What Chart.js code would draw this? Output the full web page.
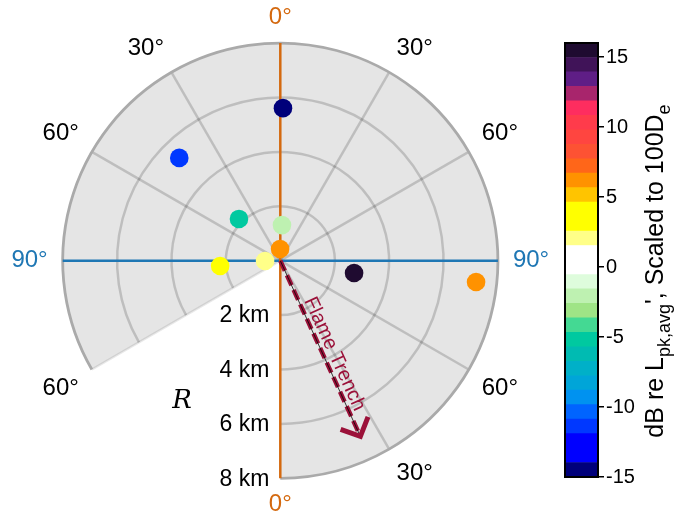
<!DOCTYPE html>
<html>
<head>
<meta charset="utf-8">
<script src="https://cdn.jsdelivr.net/npm/chart.js@4.4.1/dist/chart.umd.min.js"></script>
<style>
  html, body { margin: 0; padding: 0; background: #fff; }
  #wrap { position: relative; width: 685px; height: 514px; }
  #polarChart { position: absolute; left: 0; top: 0; }
  #scaleChart { position: absolute; left: 540px; top: 0; }
</style>
</head>
<body>
<div id="wrap">
  <canvas id="polarChart" width="685" height="514"></canvas>
  <canvas id="scaleChart" width="145" height="514"></canvas>
</div>
<script>
// Measurement stations: range from pad (km), bearing (deg, 0 = up, clockwise), level (dB)
const RANGE_KM = [5.61, 5.30, 2.16, 1.31, 0.43, 0.56, 2.22, 2.75, 7.24];
const BEARING_DEG = [1.0, 315.5, 315.3, 2.7, 359, 269, 265, 99.5, 96.2];
const LEVEL_DB = [-14.5, -11.4, -5.2, -2.1, 6.2, 2.0, 3.5, 15.5, 6.2];

// Polar grid
const RING_KM = [2, 4, 6, 8];
const RING_LABELS = ["2 km", "4 km", "6 km", "8 km"];
const SPOKE_DEG = [30, 60, 120, 150, 300, 330];
const ANGLE_DEG = [0, 30, 60, 90, 120, 150, 180, 240, 270, 300, 330];
const ANGLE_LABELS = ["0°", "30°", "60°", "90°", "60°", "30°", "0°", "60°", "90°", "60°", "30°"];
const SECTOR_FROM = 240; // wedge between 180° and 240° is left open
const SECTOR_TO = 540;

// Flame trench heading
const TRENCH_BEARING = 155.5;
const TRENCH_KM = 7.0;

// Colour scale (dB), colours listed from bottom to top
const CB_MIN = -15;
const CB_MAX = 16;
const CB_TICKS = [-15, -10, -5, 0, 5, 10, 15];
const CB_COLORS = [
  "#00007a", "#0000ff", "#0000ff", "#0038ff", "#0064ff",
  "#0092f0", "#00a5d8", "#00b0c8", "#00bbb2", "#00c9a0",
  "#44d993", "#9fe486", "#bef1b1", "#defcdc", "#ffffff",
  "#ffffff", "#ffff88", "#ffff00", "#ffff00", "#ffc400",
  "#ff9200", "#ff6619", "#fd5233", "#ff4540", "#ff3b4b",
  "#fe2d5f", "#a8256c", "#5f1e86", "#401358", "#1f0b30",
];

const ORANGE = "#d4690f";
const BLUE = "#1f77b4";
const TRENCH_RED = "#9b1139";
const SANS = "'Liberation Sans', Arial, sans-serif";

// Layout of the polar panel
const CENTER_X = 280.3;
const CENTER_Y = 260.7;
const PX_PER_KM = 27.2;
const W = 685;
const H = 514;

function levelColor(v) {
  const step = (CB_MAX - CB_MIN) / CB_COLORS.length;
  let i = Math.floor((v - CB_MIN) / step);
  i = Math.max(0, Math.min(CB_COLORS.length - 1, i));
  return CB_COLORS[i];
}

const toRad = (d) => (d * Math.PI) / 180;

// Grid, axes and annotations of the polar panel
const polarGrid = {
  id: "polarGrid",
  beforeDatasetsDraw(chart) {
    const { ctx } = chart;
    const xs = chart.scales.x;
    const ys = chart.scales.y;
    const at = (km, deg) => [
      xs.getPixelForValue(km * Math.sin(toRad(deg))),
      ys.getPixelForValue(km * Math.cos(toRad(deg))),
    ];
    const [cx, cy] = at(0, 0);
    const pxKm = xs.getPixelForValue(1) - cx;
    const rMax = RING_KM[RING_KM.length - 1];
    const R = rMax * pxKm;
    const a0 = toRad(SECTOR_FROM - 90);
    const a1 = toRad(SECTOR_TO - 90);

    ctx.save();
    // sector background
    ctx.beginPath();
    ctx.moveTo(cx, cy);
    ctx.arc(cx, cy, R, a0, a1, false);
    ctx.closePath();
    ctx.fillStyle = "#e5e5e5";
    ctx.fill();

    // rings and spokes
    ctx.strokeStyle = "rgba(0,0,0,0.17)";
    ctx.lineWidth = 2.5;
    RING_KM.slice(0, -1).forEach((km) => {
      ctx.beginPath();
      ctx.arc(cx, cy, km * pxKm, a0, a1, false);
      ctx.stroke();
    });
    SPOKE_DEG.forEach((deg) => {
      const [px, py] = at(rMax, deg);
      ctx.beginPath();
      ctx.moveTo(cx, cy);
      ctx.lineTo(px, py);
      ctx.stroke();
    });

    // open edge of the sector
    const [ex, ey] = at(rMax, SECTOR_FROM);
    ctx.strokeStyle = "rgba(0,0,0,0.09)";
    ctx.beginPath();
    ctx.moveTo(cx, cy);
    ctx.lineTo(ex, ey);
    ctx.stroke();

    // outer rim
    ctx.strokeStyle = "#aaaaaa";
    ctx.lineWidth = 2.8;
    ctx.beginPath();
    ctx.arc(cx, cy, R, a0, a1, false);
    ctx.stroke();

    // 90° and 0° axes
    ctx.lineWidth = 2.5;
    let p = at(rMax, 270), q = at(rMax, 90);
    ctx.strokeStyle = BLUE;
    ctx.beginPath();
    ctx.moveTo(p[0], p[1]);
    ctx.lineTo(q[0], q[1]);
    ctx.stroke();
    p = at(rMax, 0);
    q = at(rMax, 180);
    ctx.strokeStyle = ORANGE;
    ctx.beginPath();
    ctx.moveTo(p[0], p[1]);
    ctx.lineTo(q[0], q[1]);
    ctx.stroke();

    // angle labels: the label box sits just outside the rim, on the side the bearing points to
    ctx.font = "24px " + SANS;
    ctx.textAlign = "center";
    ctx.textBaseline = "middle";
    const labelKm = rMax + 15 / pxKm;
    const halfH = 11;
    ANGLE_DEG.forEach((deg, i) => {
      const [lx, ly] = at(labelKm, deg);
      const s = Math.round(Math.sin(toRad(deg)) * 1000) / 1000;
      const c = Math.round(Math.cos(toRad(deg)) * 1000) / 1000;
      const halfW = ctx.measureText(ANGLE_LABELS[i]).width / 2;
      ctx.fillStyle = deg % 180 === 0 ? ORANGE : deg % 90 === 0 ? BLUE : "#000";
      ctx.fillText(ANGLE_LABELS[i], lx + Math.sign(s) * halfW, ly - Math.sign(c) * halfH);
    });

    // range labels along the lower 0° axis
    ctx.font = "23px " + SANS;
    ctx.textAlign = "right";
    ctx.fillStyle = "#000";
    RING_KM.forEach((km, i) => {
      const [lx, ly] = at(km, 180);
      ctx.fillText(RING_LABELS[i], lx - 11, ly + 1);
    });

    // axis name
    const [rx, ry] = at(6.3, 215);
    ctx.font = "italic 26px 'DejaVu Serif', serif";
    ctx.textAlign = "center";
    ctx.fillText("R", rx, ry);

    // flame trench arrow
    const ang = toRad(TRENCH_BEARING - 90);
    const [tx, ty] = at(TRENCH_KM, TRENCH_BEARING);
    const [hx, hy] = at(TRENCH_KM + 0.1, TRENCH_BEARING);
    ctx.strokeStyle = TRENCH_RED;
    ctx.lineWidth = 4.5;
    ctx.setLineDash([11, 5]);
    ctx.beginPath();
    ctx.moveTo(cx, cy);
    ctx.lineTo(tx, ty);
    ctx.stroke();
    ctx.setLineDash([]);
    ctx.strokeStyle = "rgba(0,0,0,0.85)";
    ctx.lineWidth = 0.9;
    ctx.beginPath();
    ctx.moveTo(cx, cy);
    ctx.lineTo(tx, ty);
    ctx.stroke();
    ctx.strokeStyle = TRENCH_RED;
    ctx.lineWidth = 5;
    ctx.lineJoin = "miter";
    ctx.beginPath();
    ctx.moveTo(hx - 21 * Math.cos(ang - 0.8), hy - 21 * Math.sin(ang - 0.8));
    ctx.lineTo(hx, hy);
    ctx.lineTo(hx - 21 * Math.cos(ang + 0.8), hy - 21 * Math.sin(ang + 0.8));
    ctx.stroke();

    ctx.translate(cx, cy);
    ctx.rotate(ang);
    ctx.font = "20px " + SANS;
    ctx.fillStyle = TRENCH_RED;
    ctx.textAlign = "left";
    ctx.textBaseline = "alphabetic";
    ctx.fillText("Flame Trench", 46, -5);
    ctx.restore();
  },
};

new Chart(document.getElementById("polarChart"), {
  type: "scatter",
  data: {
    datasets: [
      {
        data: RANGE_KM.map((r, i) => ({
          x: r * Math.sin(toRad(BEARING_DEG[i])),
          y: r * Math.cos(toRad(BEARING_DEG[i])),
        })),
        pointBackgroundColor: LEVEL_DB.map(levelColor),
        pointBorderWidth: 0,
        pointRadius: 9.3,
      },
    ],
  },
  options: {
    responsive: false,
    animation: false,
    events: [],
    layout: { padding: 0, autoPadding: false },
    plugins: { legend: { display: false }, tooltip: { enabled: false } },
    scales: {
      x: { type: "linear", display: false, min: -CENTER_X / PX_PER_KM, max: (W - CENTER_X) / PX_PER_KM },
      y: { type: "linear", display: false, min: -(H - CENTER_Y) / PX_PER_KM, max: CENTER_Y / PX_PER_KM },
    },
  },
  plugins: [polarGrid],
});

// Frame and label of the colour bar
const cbDecor = {
  id: "cbDecor",
  afterDatasetsDraw(chart) {
    const { ctx, chartArea: a } = chart;
    ctx.save();
    ctx.strokeStyle = "#000";
    ctx.lineWidth = 2;
    ctx.strokeRect(a.left, a.top, a.right - a.left, a.bottom - a.top);
    ctx.restore();
  },
  afterDraw(chart) {
    const { ctx, chartArea: a } = chart;
    const parts = [
      ["dB re L", false],
      ["pk,avg", true],
      ["', Scaled to 100D", false],
      ["e", true],
    ];
    const big = "25px " + SANS;
    const small = "18px " + SANS;
    ctx.save();
    ctx.translate(116, (a.top + a.bottom) / 2 + 11);
    ctx.rotate(-Math.PI / 2);
    ctx.fillStyle = "#000";
    ctx.textBaseline = "middle";
    ctx.textAlign = "left";
    let total = 0;
    parts.forEach(([t, sub]) => {
      ctx.font = sub ? small : big;
      total += ctx.measureText(t).width;
    });
    let pos = -total / 2;
    parts.forEach(([t, sub]) => {
      ctx.font = sub ? small : big;
      ctx.fillText(t, pos, sub ? 9 : 0);
      pos += ctx.measureText(t).width;
    });
    ctx.restore();
  },
};

const cbStep = (CB_MAX - CB_MIN) / CB_COLORS.length;
new Chart(document.getElementById("scaleChart"), {
  type: "bar",
  data: {
    labels: [""],
    datasets: CB_COLORS.map((c, i) => ({
      data: [[CB_MIN + i * cbStep, CB_MIN + (i + 1) * cbStep]],
      backgroundColor: c,
      borderWidth: 0,
      barPercentage: 1,
      categoryPercentage: 1,
    })),
  },
  options: {
    responsive: false,
    animation: false,
    events: [],
    layout: { padding: { left: 25, top: 43, bottom: 37, right: 0 } },
    plugins: { legend: { display: false }, tooltip: { enabled: false } },
    scales: {
      x: { display: false, stacked: true },
      y: {
        position: "right",
        min: CB_MIN,
        max: CB_MAX,
        afterBuildTicks: (s) => {
          s.ticks = CB_TICKS.map((v) => ({ value: v }));
        },
        afterFit: (s) => {
          s.width = 87;
        },
        grid: { drawOnChartArea: false, drawTicks: true, tickLength: 6, color: "#000", lineWidth: 1.5 },
        border: { display: true, color: "#000", width: 2 },
        ticks: { color: "#000", font: { family: "'Liberation Sans', Arial, sans-serif", size: 20 }, padding: 2 },
      },
    },
  },
  plugins: [cbDecor],
});
</script>
</body>
</html>
